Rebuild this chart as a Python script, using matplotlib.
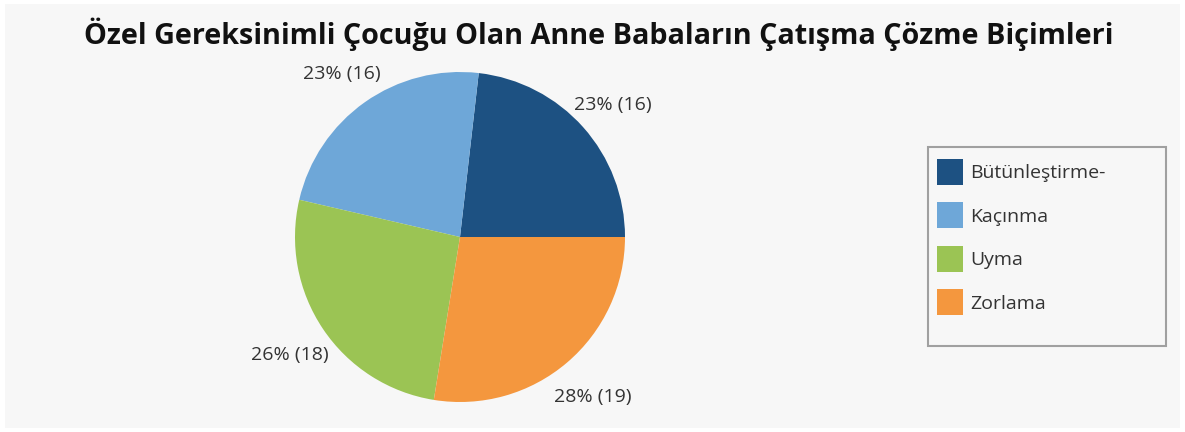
import matplotlib.pyplot as plt
from matplotlib.patches import Rectangle
from matplotlib.transforms import ScaledTranslation

plt.rcParams['font.family'] = ['Open Sans', 'DejaVu Sans']

categories = ['Bütünleştirme-', 'Kaçınma', 'Uyma', 'Zorlama']
counts = [16, 16, 18, 19]
colors = ['#1d5182', '#6ea7d8', '#9bc454', '#f4973e']
title = 'Özel Gereksinimli Çocuğu Olan Anne Babaların Çatışma Çözme Biçimleri'

W, H = 1185, 432
fig = plt.figure(figsize=(W / 100, H / 100), dpi=100, facecolor='white')

# light gray panel
fig.patches.append(Rectangle((5 / W, 4 / H), 1175 / W, 424 / H,
                             transform=fig.transFigure, facecolor='#f7f7f7',
                             edgecolor='none', zorder=-1))

cx, cy, r = 460, 237, 165
ax = fig.add_axes([(cx - r) / W, (H - cy - r) / H, 2 * r / W, 2 * r / H])
ax.set_facecolor('none')

total = sum(counts)
labels = [f'{round(c / total * 100)}% ({c})' for c in counts]

wedges, texts = ax.pie(counts, colors=colors, labels=labels, startangle=0,
                       counterclock=True, labeldistance=1.24, radius=1,
                       wedgeprops=dict(linewidth=0),
                       textprops=dict(fontsize=14, color='#333333'))
# nudge labels a few pixels down, like the original
shift = ScaledTranslation(0, -4 / 100, fig.dpi_scale_trans)
for t in texts:
    t.set_ha('center')
    t.set_va('center')
    t.set_transform(t.get_transform() + shift)
ax.set_xlim(-1, 1)
ax.set_ylim(-1, 1)
ax.set_aspect('equal')

fig.text(599 / W, 1 - 34 / H, title, ha='center', va='center',
         fontsize=20.7, fontweight='bold', color='#111111')

# legend frame drawn separately to match the wide box
fig.patches.append(Rectangle((928 / W, 1 - 346 / H), 238 / W, 199 / H,
                             transform=fig.transFigure, facecolor='#f7f7f7',
                             edgecolor='#a0a0a0', linewidth=1.5, zorder=1))
leg = fig.legend(wedges, categories, loc='upper left',
                 bbox_to_anchor=(937 / W, 1 - 159 / H),
                 fontsize=14, frameon=False,
                 handlelength=1.34, handleheight=1.68, labelspacing=0.9,
                 handletextpad=0.36, borderpad=0, borderaxespad=0)
leg.set_zorder(2)
for t in leg.get_texts():
    t.set_color('#333333')

fig.savefig('out.png', dpi=100, facecolor='white')
